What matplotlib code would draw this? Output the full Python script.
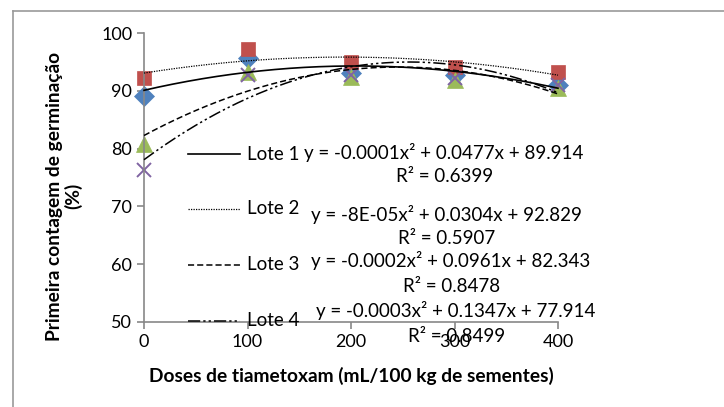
import numpy as np
import matplotlib.pyplot as plt
from matplotlib.lines import Line2D

plt.rcParams['font.family'] = ['Lato', 'DejaVu Sans']

doses = [0, 100, 200, 300, 400]
lote1 = [89.1, 95.6, 93.0, 92.7, 91.0]
lote2 = [92.2, 97.2, 95.0, 94.1, 93.3]
lote3 = [80.8, 93.3, 92.4, 91.9, 90.5]
lote4 = [76.3, 92.7, 92.8, 92.3, 91.0]

labels = ["Lote 1", "Lote 2", "Lote 3", "Lote 4"]
equations = ["y = -0.0001x² + 0.0477x + 89.914",
             "y = -8E-05x² + 0.0304x + 92.829",
             "y = -0.0002x² + 0.0961x + 82.343",
             "y = -0.0003x² + 0.1347x + 77.914"]
r2 = ["R² = 0.6399", "R² = 0.5907", "R² = 0.8478", "R² = 0.8499"]

colors = ['#4F81BD', '#C0504D', '#9BBB59', '#8064A2']
markers = ['D', 's', '^', 'x']
msizes = [10, 10.5, 11, 10.5]
styles = ['-', (0, (1, 1)), (0, (4, 2)), (0, (8, 2, 1.5, 2, 1.5, 2))]
widths = [1.2, 0.9, 1.1, 1.1]

fig = plt.figure(figsize=(7.24, 4.07), dpi=100)
ax = fig.add_axes([144/724, 1-322/407, 414/724, 289/407])

xs = np.linspace(0, 400, 200)
for i, ys in enumerate([lote1, lote2, lote3, lote4]):
    ax.plot(doses, ys, linestyle='none', marker=markers[i], color=colors[i],
            markersize=msizes[i], markeredgewidth=1.4 if markers[i] == 'x' else 0.5,
            zorder=2, clip_on=False)
for i, ys in enumerate([lote1, lote2, lote3, lote4]):
    # quadratic trendline, like the one in the original spreadsheet
    c = np.polyfit(doses, ys, 2)
    ax.plot(xs, np.polyval(c, xs), color='black', linestyle=styles[i],
            linewidth=widths[i], zorder=3, clip_on=False)

ax.set_xlim(0, 400)
ax.set_ylim(50, 100)
ax.set_xticks(doses)
ax.set_yticks([50, 60, 70, 80, 90, 100])
for s in ['top', 'right']:
    ax.spines[s].set_visible(False)
for s in ['left', 'bottom']:
    ax.spines[s].set_color('#888888')
    ax.spines[s].set_linewidth(1.2)
ax.tick_params(colors='#888888', labelcolor='black', labelsize=13, length=5, width=1.2)
ax.set_facecolor('none')

ax.set_xlabel("Doses de tiametoxam (mL/100 kg de sementes)", fontsize=13.8,
              fontweight='bold', labelpad=12)
fig.text(64/724, 1-196/407, "Primeira contagem de germinação\n(%)", rotation=90,
         fontsize=13.8, fontweight='bold', ha='center', va='center',
         multialignment='center', linespacing=1.1)

# legend and trendline labels
leg_y = [154, 209, 265, 321]
eq_y = [152, 214, 261, 311]
r2_y = [177, 239, 286, 336]
eq_x = [444, 446, 451, 456]
for i in range(4):
    fy = 1 - leg_y[i]/407
    fig.add_artist(Line2D([188/724, 240/724], [fy, fy], color='black',
                          linestyle=styles[i], linewidth=widths[i]))
    fig.text(247/724, fy, labels[i], fontsize=13.5, va='center', ha='left')
    fig.text(eq_x[i]/724, 1 - eq_y[i]/407, equations[i], fontsize=13.5, va='center', ha='center')
    fig.text((eq_x[i] + 1)/724, 1 - r2_y[i]/407, r2[i], fontsize=13.5, va='center', ha='center')

# outer chart frame
fig.add_artist(Line2D([13/724, 13/724], [0, 1-11/407], color='#999999', linewidth=1.2))
fig.add_artist(Line2D([13/724, 1], [1-11/407, 1-11/407], color='#999999', linewidth=1.2))

fig.savefig("out.png", dpi=100)
